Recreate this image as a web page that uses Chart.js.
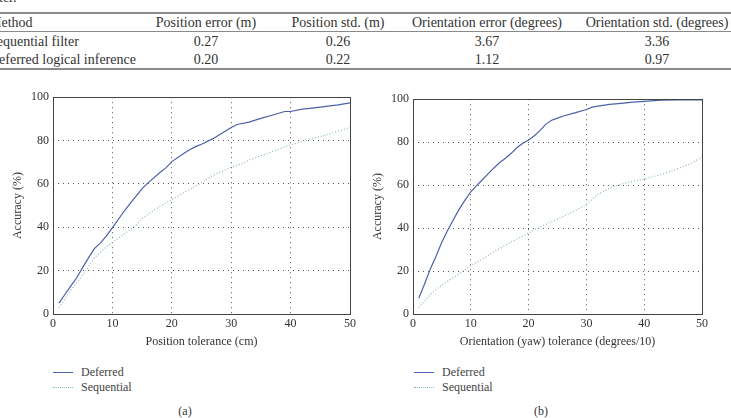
<!DOCTYPE html>
<html>
<head>
<meta charset="utf-8">
<script src="https://cdn.jsdelivr.net/npm/chart.js@4/dist/chart.umd.min.js"></script>
<style>
  html, body { margin:0; padding:0; background:#fff; }
  body { width:731px; height:418px; position:relative; overflow:hidden; font-family:"Liberation Serif", serif; color:#333; }
  .t { position:absolute; font-size:12px; line-height:14px; white-space:nowrap; }
  .tb { font-size:14px; line-height:16px; }
  .c { transform:translateX(-50%); }
  .rule { position:absolute; left:0; width:731px; background:#8a8a8a; }
  canvas { position:absolute; }
  .lg { position:absolute; width:20px; height:0; }
</style>
</head>
<body>
<script>
// ---------- data ----------
const tableHeader = ["Method", "Position error (m)", "Position std. (m)", "Orientation error (degrees)", "Orientation std. (degrees)"];
const tableRow1 = ["Sequential filter", "0.27", "0.26", "3.67", "3.36"];
const tableRow2 = ["Deferred logical inference", "0.20", "0.22", "1.12", "0.97"];

const seriesNames = ["Deferred", "Sequential"];

// (a) position tolerance (cm)
const posDeferredX = [1,2,3,4,5,6,7,8,9,10,12,13,15,16,18,19,20,22,23,24,25,27,30,31,33,35,37,39,40,42,44,46,48,50];
const posDeferredY = [5,9,13,16.7,21.5,26,30.3,32.8,36,39.8,47.5,51,57.8,60.5,65.3,67.4,70.3,74,75.8,77.2,78.3,81,86,87.4,88.5,90.2,91.8,93.4,93.4,94.5,95.1,95.8,96.5,97.4];
const posSequentialX = [1,2,3,4,5,6,7,8,9,10,12,14,15,17,20,22,25,27,30,32,33,35,38,40,43,46,50];
const posSequentialY = [3,7,11,14.5,18,22,26,28.5,31,33,37,41,44,48,52.8,56,60.5,64,67.8,69.5,71,73,76,78,80.5,82.6,86];

// (b) orientation (yaw) tolerance (degrees/10)
const oriDeferredX = [1,2,3,4,5,6,7,8,9,10,11,12,14,15,16,17,18,19,20,21,22,23,24,25,26,28,30,31,32,34,36,38,40,43,46,50];
const oriDeferredY = [7.3,14,21,27,33.5,39,44,48.8,53,56.9,59.8,62.5,68,70.5,72.5,74.8,77.5,79.5,81,83,85.5,88.4,90.2,91.2,92.2,93.6,95.2,96.3,96.8,97.6,98.1,98.6,99,99.6,99.7,99.7];
const oriSequentialX = [1,2,3,4,5,7,10,12,14,17,20,22,25,28,30,32,34,36,40,43,45,48,50];
const oriSequentialY = [3,6,9,11.5,13.5,17,22.5,25.5,29,33.5,37.7,40.5,44.3,48,51,55.8,58.5,60.5,62.9,65,66.8,70,73];

const xTicks = [0,10,20,30,40,50];
const yTicks = [0,20,40,60,80,100];
const yTitle = "Accuracy (%)";
const xTitleA = "Position tolerance (cm)";
const xTitleB = "Orientation (yaw) tolerance (degrees/10)";
const panelLabels = ["(a)", "(b)"];

// ---------- page text ----------
function addText(txt, left, top, center, extra, cls) {
  const d = document.createElement('div');
  d.className = 't' + (center ? ' c' : '') + (cls ? ' ' + cls : '');
  d.textContent = txt;
  d.style.left = left + 'px';
  d.style.top = top + 'px';
  if (extra) Object.assign(d.style, extra);
  document.body.appendChild(d);
  return d;
}
function addRule(top, h) {
  const r = document.createElement('div');
  r.className = 'rule';
  r.style.top = top + 'px';
  r.style.height = h + 'px';
  document.body.appendChild(r);
}
addText("ter.", -1, -10, false, null, 'tb');
addRule(12, 1.5);
addRule(31, 1);
addRule(68, 1.5);
const colX = [206, 338, 487, 657];
[[tableHeader, 15], [tableRow1, 34], [tableRow2, 52]].forEach(([row, top]) => {
  addText(row[0], -11, top, false, null, 'tb');
  for (let i = 1; i < row.length; i++) addText(row[i], colX[i-1], top, true, null, 'tb');
});

const deferredColor = '#4d60aa';
const sequentialColor = '#8cb6c2';

function legend(x0, names) {
  const ys = [372, 387];
  names.forEach((n, i) => {
    const l = document.createElement('div');
    l.className = 'lg';
    l.style.left = x0 + 'px';
    l.style.top = (ys[i]) + 'px';
    l.style.borderTop = i === 0 ? ('1.5px solid ' + deferredColor) : ('1px dotted ' + sequentialColor);
    document.body.appendChild(l);
    addText(n, x0 + 28, ys[i] - 7, false, {color:'#444'});
  });
}
legend(53, seriesNames);
legend(414, seriesNames);
addText(panelLabels[0], 185, 404, true);
addText(panelLabels[1], 541, 404, true);

// ---------- charts ----------
const frame = {
  id: 'frame',
  afterDraw(chart) {
    const {ctx, chartArea: a} = chart;
    ctx.save();
    ctx.strokeStyle = '#444';
    ctx.lineWidth = 1;
    ctx.strokeRect(Math.round(a.left) + 0.5, Math.round(a.top) + 0.5, Math.round(a.right - a.left), Math.round(a.bottom - a.top));
    ctx.restore();
  }
};

function pts(xs, ys) { return xs.map((x, i) => ({x, y: ys[i]})); }

function makeChart(left, top, width, height, padTop, padRight, xTitle, dX, dY, sX, sY) {
  const cv = document.createElement('canvas');
  cv.width = width; cv.height = height;
  cv.style.left = left + 'px'; cv.style.top = top + 'px';
  cv.style.width = width + 'px'; cv.style.height = height + 'px';
  document.body.appendChild(cv);
  const font = {family: '"Liberation Serif", serif', size: 12};
  new Chart(cv, {
    type: 'line',
    data: {
      datasets: [
        {label: seriesNames[0], data: pts(dX, dY), borderColor: deferredColor, borderWidth: 1.2, pointRadius: 0, tension: 0, fill: false},
        {label: seriesNames[1], data: pts(sX, sY), borderColor: sequentialColor, borderWidth: 1.2, borderDash: [1, 2], pointRadius: 0, tension: 0, fill: false}
      ]
    },
    options: {
      responsive: false,
      animation: false,
      devicePixelRatio: 1,
      layout: {padding: {top: padTop, right: padRight, left: 0, bottom: 0}},
      plugins: {legend: {display: false}, tooltip: {enabled: false}},
      scales: {
        x: {
          type: 'linear', min: 0, max: 50,
          afterBuildTicks: s => { s.ticks = xTicks.map(v => ({value: v})); },
          afterFit: s => { s.height = 35; },
          ticks: {font, color: '#333', padding: 3, maxRotation: 0},
          grid: {color: '#555', borderDash: [1, 4], drawTicks: false, lineWidth: 1},
          border: {display: false, dash: [1, 4]},
          title: {display: true, text: xTitle, font, color: '#333', padding: {top: 0, bottom: 0}}
        },
        y: {
          type: 'linear', min: 0, max: 100,
          afterBuildTicks: s => { s.ticks = yTicks.map(v => ({value: v})); },
          afterFit: s => { s.width = 53; },
          ticks: {font, color: '#333', padding: 4},
          grid: {color: '#555', drawTicks: false, lineWidth: 1},
          border: {display: false, dash: [1, 4]},
          title: {display: true, text: yTitle, font, color: '#333', padding: {top: 11, bottom: 0}}
        }
      }
    },
    plugins: [frame]
  });
}

makeChart(0, 86, 360, 263, 10, 10, xTitleA, posDeferredX, posDeferredY, posSequentialX, posSequentialY);
makeChart(360, 88, 371, 261, 10, 29, xTitleB, oriDeferredX, oriDeferredY, oriSequentialX, oriSequentialY);
</script>
</body>
</html>
